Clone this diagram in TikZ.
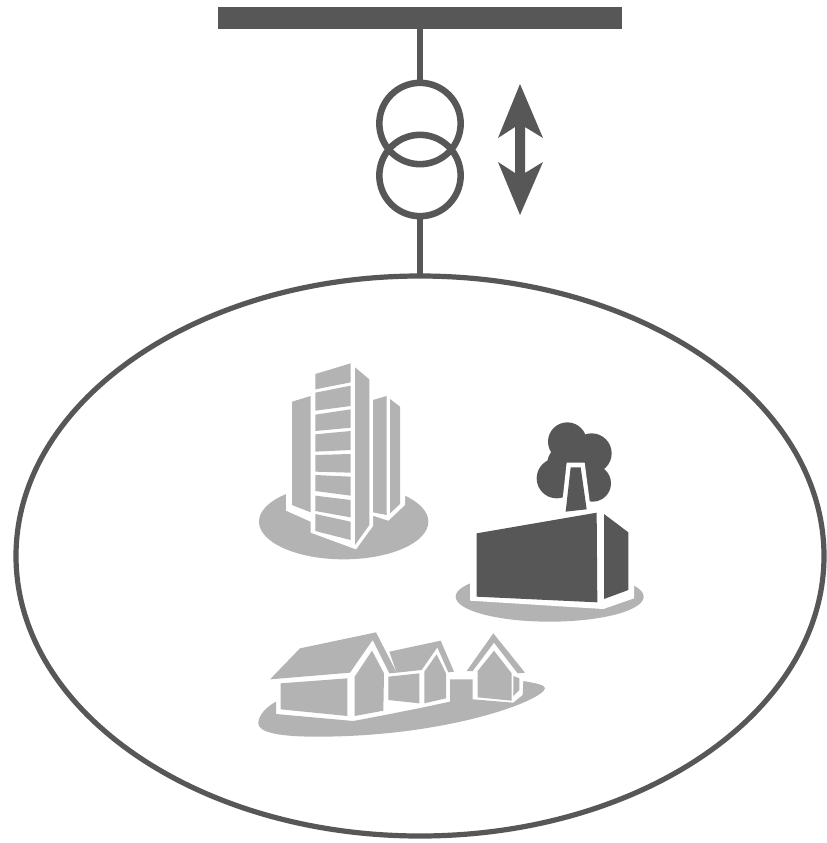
\documentclass[tikz,border=0pt]{standalone}
\usetikzlibrary{shapes.geometric}
\definecolor{darkg}{HTML}{575757}
\definecolor{lightg}{HTML}{B3B3B3}
\tikzset{
  wire/.style={draw=darkg,line width=4.9pt},
  ringnode/.style={circle,draw=darkg,line width=4.9pt,minimum size=61pt,inner sep=0pt,outer sep=0pt},
  lite/.style={fill=lightg,draw=none},
  dark/.style={fill=darkg,draw=none},
  halo/.style={fill=white,draw=none}
}
\begin{document}
\begin{tikzpicture}[x=0.75pt,y=-0.75pt]
\useasboundingbox (0,0) rectangle (826,843);
\fill[white] (0,0) rectangle (826,843);
% network ellipse, bus bar, transformer
\node[ellipse,draw=darkg,line width=3.9pt,minimum width=606pt,minimum height=420pt,inner sep=0pt,outer sep=0pt] (net) at (420,556) {};
\node[fill=darkg,minimum width=303pt,minimum height=16.5pt,inner sep=0pt,outer sep=0pt] (bar) at (420,18) {};
\node[ringnode] (t1) at (420,123.5) {};
\node[ringnode] (t2) at (420,175.5) {};
\draw[wire] (bar.south) -- (t1.north);
\draw[wire] (t2.south) -- (net.north);
% double arrow
\fill[darkg] (520,84) -- (543,138) -- (525,127) -- (525,173) -- (543,162) -- (520,215) -- (498,162) -- (515,173) -- (515,127) -- (498,138) -- cycle;
% office buildings
\begin{scope}[shift={(250,350)},scale=1/3]
\fill[lite] (281,515) ellipse [x radius=254,y radius=113];
\fill[halo] (108,130) -- (108,482) -- (182,515) -- (182,548) -- (318,598) -- (369,528) -- (369,497) -- (415,512) -- (465,465) -- (465,120) -- (190,30) -- cycle;
\fill[lite] (126,155) -- (182,138) -- (182,487) -- (126,465) -- cycle;
\fill[lite] (369,150) -- (410,138) -- (410,495) -- (369,487) -- cycle;
\fill[lite] (420,147) -- (450,170) -- (450,462) -- (420,490) -- cycle;
\fill[lite] (196,72) -- (302,40) -- (302,97) -- (196,118) -- cycle;
\fill[lite] (196,128) -- (302,107) -- (302,168) -- (196,182) -- cycle;
\fill[lite] (196,194) -- (302,178) -- (302,233) -- (196,243) -- cycle;
\fill[lite] (196,253) -- (302,243) -- (302,300) -- (196,305) -- cycle;
\fill[lite] (196,315) -- (302,312) -- (302,368) -- (196,365) -- cycle;
\fill[lite] (196,375) -- (302,380) -- (302,437) -- (196,423) -- cycle;
\fill[lite] (196,437) -- (302,450) -- (302,502) -- (196,483) -- cycle;
\fill[lite] (196,492) -- (302,515) -- (302,570) -- (196,543) -- cycle;
\fill[lite] (315,52) -- (358,88) -- (358,525) -- (315,585) -- cycle;
\end{scope}
% factory
\begin{scope}[shift={(450,410)},scale=1/3]
\fill[lite] (299,560) ellipse [x radius=282,y radius=75];
\fill[halo] (60,360) -- (60,572) -- (460,597) -- (552,565) -- (552,360) -- (460,295) -- cycle;
\fill[dark] (352,95) circle [radius=58];
\fill[dark] (425,130) circle [radius=60];
\fill[dark] (320,205) circle [radius=60];
\fill[dark] (428,220) circle [radius=55];
\fill[dark] (370,170) circle [radius=80];
\fill[halo] (350,158) -- (404,158) -- (424,312) -- (333,312) -- cycle;
\fill[dark] (80,370) -- (440,308) -- (442,577) -- (80,560) -- cycle;
\fill[dark] (462,312) -- (535,367) -- (535,540) -- (462,567) -- cycle;
\fill[dark] (362,172) -- (392,172) -- (410,298) -- (347,305) -- cycle;
\end{scope}
% houses
\begin{scope}[shift={(250,620)},scale=1/3]
\fill[lite] (78,245) -- (78,282) -- (310,303) -- (415,283) -- (520,262) -- (600,245) -- (600,178) -- (668,178) -- (668,238) -- (790,248) -- (818,225) -- (820,183) .. controls (860,190) and (885,195) .. (885,205) .. controls (880,240) and (600,350) .. (200,350) .. controls (100,350) and (25,340) .. (25,310) .. controls (25,285) and (50,260) .. (78,245) -- cycle;
\fill[lite] (60,178) -- (150,85) -- (378,37) -- (440,158) -- (418,160) -- (368,60) -- (300,158) -- cycle;
\fill[lite] (92,190) -- (292,175) -- (292,288) -- (92,268) -- cycle;
\fill[lite] (314,170) -- (366,92) -- (402,160) -- (400,272) -- (314,288) -- cycle;
\fill[lite] (418,95) -- (572,62) -- (612,155) -- (595,157) -- (562,82) -- (515,150) -- (440,158) -- cycle;
\fill[lite] (415,170) -- (508,160) -- (508,250) -- (415,240) -- cycle;
\fill[lite] (523,155) -- (560,103) -- (588,160) -- (588,235) -- (523,250) -- cycle;
\fill[lite] (650,153) -- (730,40) -- (825,158) -- (803,160) -- (732,68) -- (668,153) -- cycle;
\fill[lite] (683,153) -- (732,92) -- (785,160) -- (785,242) -- (683,232) -- cycle;
\fill[lite] (790,168) -- (808,175) -- (808,210) -- (790,228) -- cycle;
\end{scope}
\end{tikzpicture}
\end{document}
